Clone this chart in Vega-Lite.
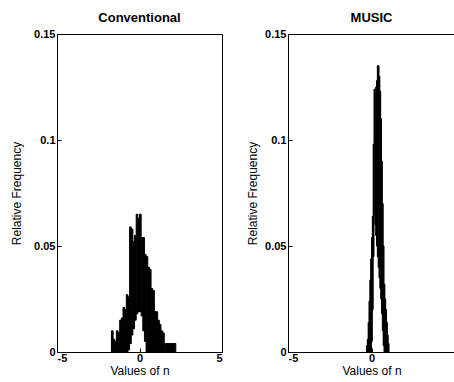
{
  "$schema": "https://vega.github.io/schema/vega-lite/v6.json",
  "padding": {"left": 9, "top": 11, "right": 0, "bottom": 0},
  "spacing": 22,
  "datasets": {
    "conv": [
      {"x0": -1.7, "x1": -1.6, "lo": 0, "hi": 0.010},
      {"x0": -1.6, "x1": -1.5, "lo": 0, "hi": 0.006},
      {"x0": -1.5, "x1": -1.4, "lo": 0, "hi": 0.005},
      {"x0": -1.4, "x1": -1.3, "lo": 0, "hi": 0.010},
      {"x0": -1.3, "x1": -1.2, "lo": 0, "hi": 0.009},
      {"x0": -1.2, "x1": -1.1, "lo": 0, "hi": 0.015},
      {"x0": -1.1, "x1": -1.0, "lo": 0, "hi": 0.016},
      {"x0": -1.0, "x1": -0.9, "lo": 0, "hi": 0.021},
      {"x0": -0.9, "x1": -0.8, "lo": 0, "hi": 0.020},
      {"x0": -0.8, "x1": -0.7, "lo": 0, "hi": 0.027},
      {"x0": -0.7, "x1": -0.6, "lo": 0.001, "hi": 0.026},
      {"x0": -0.6, "x1": -0.5, "lo": 0.004, "hi": 0.059},
      {"x0": -0.5, "x1": -0.4, "lo": 0.008, "hi": 0.058},
      {"x0": -0.4, "x1": -0.3, "lo": 0.011, "hi": 0.052},
      {"x0": -0.3, "x1": -0.2, "lo": 0.015, "hi": 0.055},
      {"x0": -0.2, "x1": -0.1, "lo": 0.018, "hi": 0.065},
      {"x0": -0.1, "x1": 0.0, "lo": 0.019, "hi": 0.063},
      {"x0": 0.0, "x1": 0.1, "lo": 0.019, "hi": 0.065},
      {"x0": 0.1, "x1": 0.2, "lo": 0.017, "hi": 0.054},
      {"x0": 0.2, "x1": 0.3, "lo": 0.010, "hi": 0.054},
      {"x0": 0.3, "x1": 0.4, "lo": 0.005, "hi": 0.046},
      {"x0": 0.4, "x1": 0.5, "lo": 0, "hi": 0.045},
      {"x0": 0.5, "x1": 0.6, "lo": 0, "hi": 0.040},
      {"x0": 0.6, "x1": 0.7, "lo": 0, "hi": 0.039},
      {"x0": 0.7, "x1": 0.8, "lo": 0, "hi": 0.030},
      {"x0": 0.8, "x1": 0.9, "lo": 0, "hi": 0.029},
      {"x0": 0.9, "x1": 1.0, "lo": 0, "hi": 0.019},
      {"x0": 1.0, "x1": 1.1, "lo": 0, "hi": 0.019},
      {"x0": 1.1, "x1": 1.2, "lo": 0, "hi": 0.015},
      {"x0": 1.2, "x1": 1.3, "lo": 0, "hi": 0.013},
      {"x0": 1.3, "x1": 1.4, "lo": 0, "hi": 0.010},
      {"x0": 1.4, "x1": 1.5, "lo": 0, "hi": 0.009},
      {"x0": 1.5, "x1": 1.6, "lo": 0, "hi": 0.004},
      {"x0": 1.6, "x1": 1.7, "lo": 0, "hi": 0.004},
      {"x0": 1.7, "x1": 1.8, "lo": 0, "hi": 0.004},
      {"x0": 1.8, "x1": 1.9, "lo": 0, "hi": 0.004},
      {"x0": 1.9, "x1": 2.0, "lo": 0, "hi": 0.004},
      {"x0": 2.0, "x1": 2.1, "lo": 0, "hi": 0.004},
      {"x0": 2.1, "x1": 2.2, "lo": 0, "hi": 0.004}
    ],
    "music": [
      {"x0": -0.30, "x1": -0.25, "lo": 0, "hi": 0.003},
      {"x0": -0.25, "x1": -0.20, "lo": 0, "hi": 0.006},
      {"x0": -0.20, "x1": -0.15, "lo": 0, "hi": 0.014},
      {"x0": -0.15, "x1": -0.10, "lo": 0, "hi": 0.024},
      {"x0": -0.10, "x1": -0.05, "lo": 0, "hi": 0.034},
      {"x0": -0.05, "x1": 0.00, "lo": 0, "hi": 0.044},
      {"x0": 0.00, "x1": 0.05, "lo": 0.005, "hi": 0.054},
      {"x0": 0.05, "x1": 0.10, "lo": 0.020, "hi": 0.064},
      {"x0": 0.10, "x1": 0.15, "lo": 0.045, "hi": 0.098},
      {"x0": 0.15, "x1": 0.20, "lo": 0.065, "hi": 0.124},
      {"x0": 0.20, "x1": 0.25, "lo": 0.060, "hi": 0.122},
      {"x0": 0.25, "x1": 0.30, "lo": 0.055, "hi": 0.125},
      {"x0": 0.30, "x1": 0.35, "lo": 0.050, "hi": 0.128},
      {"x0": 0.35, "x1": 0.40, "lo": 0.045, "hi": 0.135},
      {"x0": 0.40, "x1": 0.45, "lo": 0.040, "hi": 0.135},
      {"x0": 0.45, "x1": 0.50, "lo": 0.035, "hi": 0.130},
      {"x0": 0.50, "x1": 0.55, "lo": 0.030, "hi": 0.123},
      {"x0": 0.55, "x1": 0.60, "lo": 0.025, "hi": 0.110},
      {"x0": 0.60, "x1": 0.65, "lo": 0.018, "hi": 0.090},
      {"x0": 0.65, "x1": 0.70, "lo": 0.010, "hi": 0.070},
      {"x0": 0.70, "x1": 0.75, "lo": 0.003, "hi": 0.050},
      {"x0": 0.75, "x1": 0.80, "lo": 0, "hi": 0.032},
      {"x0": 0.80, "x1": 0.85, "lo": 0, "hi": 0.025},
      {"x0": 0.85, "x1": 0.90, "lo": 0, "hi": 0.020},
      {"x0": 0.90, "x1": 0.95, "lo": 0, "hi": 0.014},
      {"x0": 0.95, "x1": 1.00, "lo": 0, "hi": 0.008},
      {"x0": 1.00, "x1": 1.05, "lo": 0, "hi": 0.004}
    ]
  },
  "hconcat": [
    {
      "title": {"text": "Conventional"},
      "width": 165,
      "height": 318,
      "data": {"name": "conv"},
      "mark": {"type": "bar", "color": "black", "stroke": "black", "strokeWidth": 1},
      "encoding": {
        "x": {"field": "x0", "type": "quantitative", "scale": {"domain": [-5, 5], "nice": false},
              "axis": {"values": [-5, 0, 5], "title": "Values of n"}},
        "x2": {"field": "x1"},
        "y": {"field": "lo", "type": "quantitative", "scale": {"domain": [0, 0.15], "nice": false},
              "axis": {"values": [0, 0.05, 0.1, 0.15], "title": "Relative Frequency", "titleX": -34}},
        "y2": {"field": "hi"}
      }
    },
    {
      "title": {"text": "MUSIC"},
      "width": 167,
      "height": 318,
      "data": {"name": "music"},
      "mark": {"type": "bar", "color": "black", "stroke": "black", "strokeWidth": 1},
      "encoding": {
        "x": {"field": "x0", "type": "quantitative", "scale": {"domain": [-5, 5], "nice": false},
              "axis": {"values": [-5, 0], "title": "Values of n"}},
        "x2": {"field": "x1"},
        "y": {"field": "lo", "type": "quantitative", "scale": {"domain": [0, 0.15], "nice": false},
              "axis": {"values": [0, 0.05, 0.1, 0.15], "title": "Relative Frequency", "titleX": -29}},
        "y2": {"field": "hi"}
      }
    }
  ],
  "config": {
    "font": "Liberation Sans",
    "view": {"stroke": "black", "strokeWidth": 1},
    "title": {"font": "Liberation Sans", "fontSize": 13, "fontWeight": "bold", "color": "black", "offset": 3},
    "axis": {
      "grid": false,
      "domainColor": "black",
      "tickColor": "black",
      "tickSize": -4,
      "labelPadding": 6,
      "labelFont": "Liberation Sans",
      "labelFontSize": 11,
      "labelFontWeight": "bold",
      "labelColor": "black",
      "labelExpr": "'' + datum.value",
      "titleFont": "Liberation Sans",
      "titleFontSize": 12,
      "titleFontWeight": "normal",
      "titleColor": "black",
      "titlePadding": 1
    },
    "axisX": {"labelPadding": 4, "titlePadding": 2}
  }
}
